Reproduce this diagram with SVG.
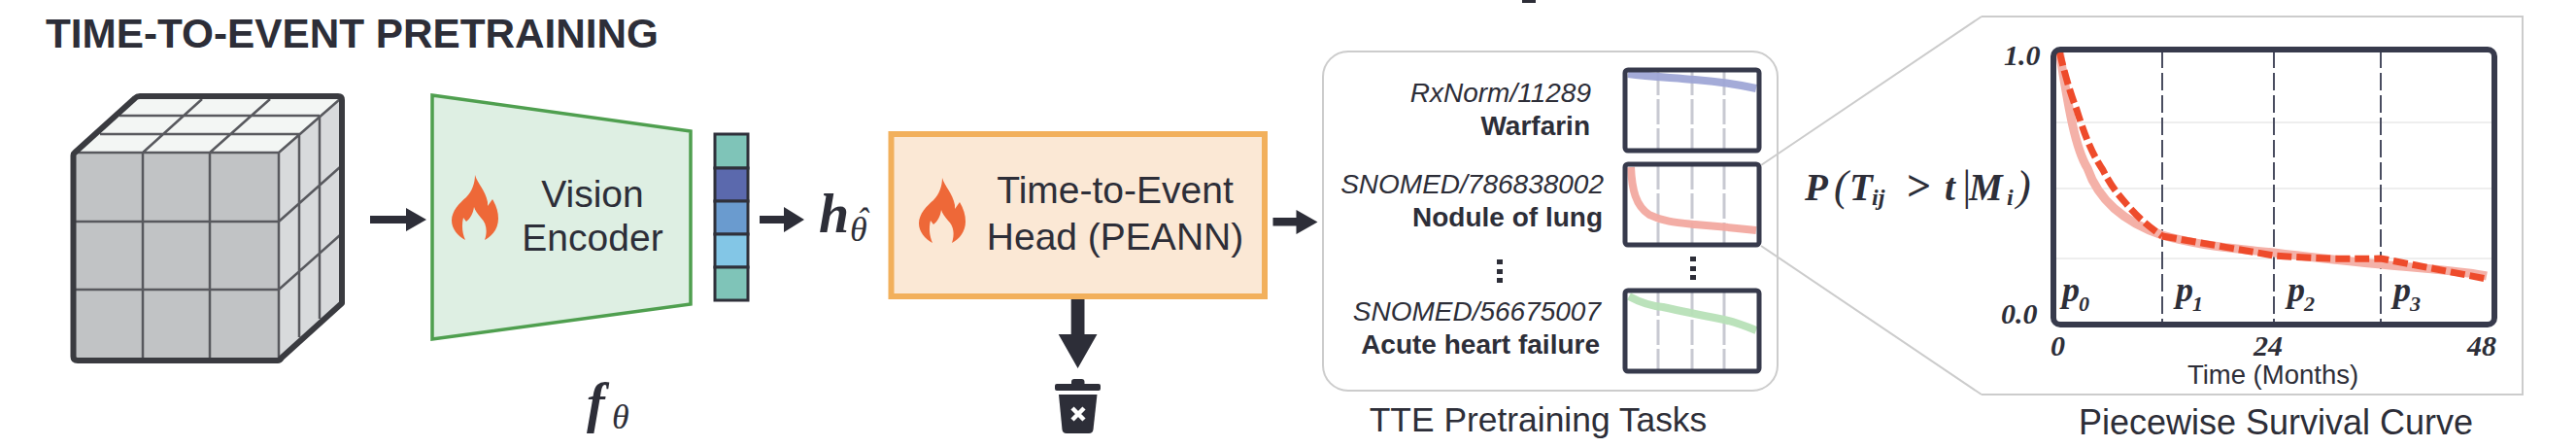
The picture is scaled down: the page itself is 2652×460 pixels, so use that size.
<svg xmlns="http://www.w3.org/2000/svg" xmlns:xlink="http://www.w3.org/1999/xlink" width="2652" height="460" viewBox="0 0 2652 460">
<style>
text{font-family:"Liberation Sans",Arial,sans-serif;fill:#2d2e38}
.m{text-anchor:middle}
.lab{font-size:39px}
.cap{font-size:35.400px}
.code{font-size:28px;font-style:italic;text-anchor:end}
.name{font-size:28px;font-weight:bold;text-anchor:end}
.math{font-family:"Liberation Serif","DejaVu Serif",serif;font-style:italic;font-weight:bold}
.reg{font-weight:normal}
.tick{font-size:30px}
.sub{font-size:22px}
.cell{fill:none;stroke:#58595e;stroke-width:2.500}
.mini{fill:none;stroke:#373a4c;stroke-width:5}
.dash{stroke:#c8c9d2;stroke-width:3;stroke-dasharray:26 4;fill:none}
.pdash{stroke:#4a4d60;stroke-width:2;stroke-dasharray:18 5;fill:none}
.grid{stroke:#eeeeee;stroke-width:2}
.curve{fill:none;stroke-width:8}
.conn{fill:#2d2e38}
.dot{fill:#2d2e38}
.flame{fill:#ee6838}
</style>
<defs>
<path id="flame" d="M24 0C26 8 35 16 37 28L37 32L42 25C46 32 48 38 48 45C48 55 42 63 34 67C37 58 36 50 30 44C27 40 24 37 23 33C22 40 19 45 15 48L12 44C10 52 11 60 14 67C6 63 0 55 0 47C0 37 8 29 15 23C21 17 24 8 24 0Z"/>
</defs>
<rect x="1567" y="0" width="14" height="3" fill="#2d2e38"/>
<text id="title" x="47" y="49" font-size="42" font-weight="bold" textLength="631" lengthAdjust="spacingAndGlyphs">TIME-TO-EVENT PRETRAINING</text>

<g id="volume">
<polygon points="141,99 352,99 287,157 76,157" fill="#f3f6f4"/>
<polygon points="287,157 352,99 352,312 287,372" fill="#d8dadc"/>
<rect x="76" y="157" width="211" height="213" fill="#c1c3c5"/>
<path class="cell" d="M147 157V370M216 157V370M76 228H287M76 298H287M103 138H308M123 119H329M76 157H287V370M147 157L208 102M216 157L278 102M287 157L350 102M308 138V347M329 119V328M287 228L350 172M287 298L350 242"/>
<path d="M75.500 160V367Q75.500 371 80 371H286Q288 371 290 368L352 312V103Q352 99 348 99H144Q141 99 139 101L77 157Q75.500 158 75.500 160Z" fill="none" stroke="#3a3b40" stroke-width="6" stroke-linejoin="round"/>
</g>

<g id="encoder">
<polygon points="445,98 711,135 711,313 445,349" fill="#deefe3" stroke="#4f9f4f" stroke-width="3.500"/>
<use href="#flame" xlink:href="#flame" class="flame" x="465" y="180"/>
<text class="lab m" x="610" y="213">Vision</text>
<text class="lab m" x="610" y="258">Encoder</text>
</g>

<g id="embedding" stroke="#2f303a" stroke-width="3">
<rect x="736" y="138" width="34" height="35" fill="#7fc4b8"/>
<rect x="736" y="173" width="34" height="34" fill="#5b69ad"/>
<rect x="736" y="207" width="34" height="34" fill="#6a9bcf"/>
<rect x="736" y="241" width="34" height="34" fill="#83c6e6"/>
<rect x="736" y="275" width="34" height="34" fill="#7fc4b8"/>
</g>

<g id="f-theta">
<text class="math" x="604" y="434" font-size="56">f</text>
<text class="math reg" x="630" y="441" font-size="36">θ</text>
</g>
<g id="h-theta">
<text class="math" x="843" y="239" font-size="56">h</text>
<text class="math reg" x="875" y="248" font-size="36">θ<tspan dx="-11" dy="-9">ˆ</tspan></text>
</g>

<g id="tte-head">
<rect x="917.500" y="138" width="384.500" height="167" fill="#fbe8d5" stroke="#f2b05c" stroke-width="6"/>
<use href="#flame" xlink:href="#flame" class="flame" x="946" y="183"/>
<text class="lab m" x="1148" y="209">Time-to-Event</text>
<text class="lab m" x="1148" y="257">Head (PEANN)</text>
</g>

<g id="trash" fill="#2d2e38">
<rect x="1103" y="390" width="13.500" height="8" rx="3"/>
<rect x="1086" y="395" width="47" height="7" rx="2"/>
<path d="M1090 406H1129.500L1125.500 442Q1125 446 1121 446H1098Q1094 446 1093.500 442Z"/>
<path d="M1104 420L1116 432M1116 420L1104 432" stroke="#fff" stroke-width="4.500" fill="none"/>
</g>

<g id="tasks-panel">
<rect x="1362" y="53" width="468" height="349" rx="26" fill="none" stroke="#cccccc" stroke-width="2"/>
<text class="code" x="1638" y="105">RxNorm/11289</text>
<text class="name" x="1637" y="139">Warfarin</text>
<text class="code" x="1651" y="199">SNOMED/786838002</text>
<text class="name" x="1650" y="233">Nodule of lung</text>
<text class="code" x="1648" y="330">SNOMED/56675007</text>
<text class="name" x="1647" y="364">Acute heart failure</text>
<rect class="dot" x="1541" y="267" width="6" height="5"/><rect class="dot" x="1541" y="277" width="6" height="5"/><rect class="dot" x="1541" y="286" width="6" height="5"/>
<rect class="dot" x="1740" y="264" width="6" height="5"/><rect class="dot" x="1740" y="274" width="6" height="5"/><rect class="dot" x="1740" y="283" width="6" height="5"/>
<text class="cap m" x="1583.500" y="444">TTE Pretraining Tasks</text>
</g>

<g id="task-warfarin">
<path class="dash" d="M1707 72V155M1742 72V155M1775 72V155"/>
<path class="curve" d="M1676 76C1700 79 1725 80 1745 82C1770 84 1790 87 1808 91" stroke="#9fa6d6" stroke-opacity=".95"/>
<rect class="mini" x="1673" y="72" width="138" height="83" rx="3"/>
</g>
<g id="task-nodule">
<path class="dash" d="M1707 169V252M1742 169V252M1775 169V252"/>
<path class="curve" d="M1679 172C1680 195 1684 212 1698 221C1712 228 1725 229 1745 231C1770 233 1790 235 1808 237" stroke="#f2a9a0" stroke-opacity=".95"/>
<rect class="mini" x="1673" y="169" width="138" height="83" rx="3"/>
</g>
<g id="task-heart">
<path class="dash" d="M1707 299V382M1742 299V382M1775 299V382"/>
<path class="curve" d="M1677 305C1690 312 1700 315 1712 316C1735 321 1755 325 1775 329C1788 332 1798 336 1808 340" stroke="#b7e0b7" stroke-opacity=".95"/>
<rect class="mini" x="1673" y="299" width="138" height="83" rx="3"/>
</g>

<g id="survival-panel">
<path d="M2040 17H2597V406H2040" fill="none" stroke="#cccccc" stroke-width="2"/>
<path class="grid" d="M2115 126H2566M2115 194H2566M2115 266H2566"/>
<path class="pdash" d="M2226 52V333M2341 52V333M2451 52V333"/>
<path d="M2120 52C2128 100 2135 150 2149 173C2160 205 2185 228 2226 242C2260 252 2300 256 2341 260C2380 265 2420 269 2451 272C2490 276 2530 278 2560 284" fill="none" stroke="#f4b1a8" stroke-width="9"/>
<path d="M2120 53C2128 85 2133 100 2138 113C2148 145 2155 160 2165 175C2175 195 2185 205 2191 212C2205 228 2215 235 2226 243" fill="none" stroke="#ee4b2b" stroke-width="7" stroke-dasharray="15 5"/>
<path d="M2226 243L2341 263C2380 266 2420 267 2451 266L2560 287" fill="none" stroke="#ee4b2b" stroke-width="7" stroke-dasharray="15 5"/>
<rect x="2114" y="51" width="454" height="283" rx="7" fill="none" stroke="#373a4c" stroke-width="6"/>
<text class="math tick" x="2063" y="67">1.0</text>
<text class="math tick" x="2060" y="333">0.0</text>
<text class="math tick" x="2111" y="366">0</text>
<text class="math tick" x="2320" y="366">24</text>
<text class="math tick" x="2540" y="366">48</text>
<text class="math" x="2123" y="310" font-size="36">p</text><text class="math sub" x="2140" y="320">0</text>
<text class="math" x="2240" y="310" font-size="36">p</text><text class="math sub" x="2257" y="320">1</text>
<text class="math" x="2355" y="310" font-size="36">p</text><text class="math sub" x="2372" y="320">2</text>
<text class="math" x="2464" y="310" font-size="36">p</text><text class="math sub" x="2481" y="320">3</text>
<text x="2340" y="395" class="m" font-size="27.500">Time (Months)</text>
<text x="2343" y="447" class="m" font-size="36">Piecewise Survival Curve</text>
</g>

<g id="formula">
<text class="math" x="1858" y="206" font-size="39">P</text>
<text class="math reg" x="1888" y="206" font-size="44">(</text>
<text class="math" x="1904" y="206" font-size="39">T</text>
<text class="math" x="1927" y="211" font-size="24">ij</text>
<text class="math" x="1962" y="206" font-size="44">&gt;</text>
<text class="math" x="2002" y="206" font-size="39">t</text>
<text class="math reg" x="2018" y="206" font-size="44">|</text>
<text class="math" x="2027" y="206" font-size="39">M</text>
<text class="math" x="2066" y="211" font-size="24">i</text>
<text class="math reg" x="2076" y="206" font-size="44">)</text>
</g>

<g id="connectors">
<polygon class="conn" points="381,222 418,222 418,214 439,226 418,238 418,230 381,230"/>
<polygon class="conn" points="782,222 807,222 807,213 828,226 807,239 807,230 782,230"/>
<polygon class="conn" points="1310.500,224 1334.500,224 1334.500,216 1356.500,228.500 1334.500,241 1334.500,232.500 1310.500,232.500"/>
<polygon class="conn" points="1102.700,308 1116.500,308 1116.500,344 1129.500,344 1109.600,379 1089.700,344 1102.700,344"/>
<path d="M1813 170L2040 17M1813 253L2040 406" fill="none" stroke="#cccccc" stroke-width="2"/>
</g>
</svg>
